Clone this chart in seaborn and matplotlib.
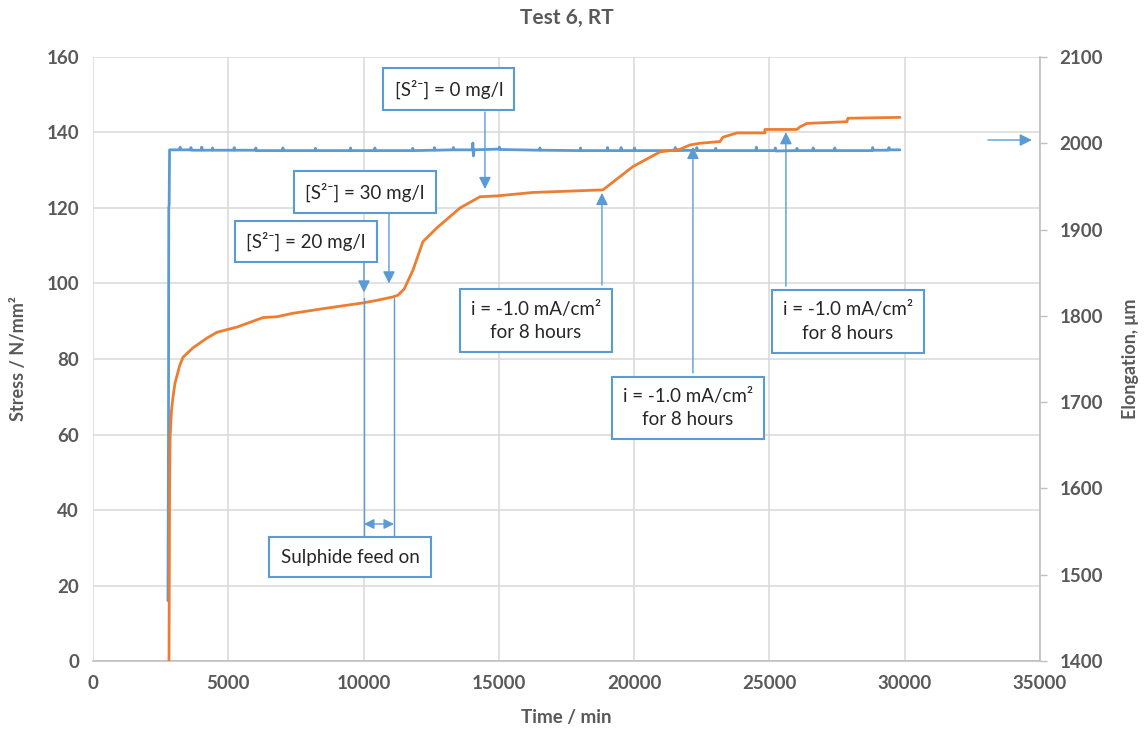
import matplotlib
matplotlib.use("Agg")
import matplotlib.pyplot as plt
import seaborn as sns
import pandas as pd

# ---------------- data ----------------
stress_time = [2770, 2790, 2800, 2815, 2830,
               3200, 3220, 3240, 3600, 3620, 3640, 4000, 4020, 4040,
               4400, 4420, 4440, 5200, 5220, 5240, 6000, 6020, 6040,
               7000, 7020, 7040, 8200, 8220, 8240, 9500, 9520, 9540,
               10400, 10420, 10440, 11800, 11820, 11840, 12600, 12620, 12640,
               13300, 13320, 13340, 14020, 14040, 14060, 14080,
               15000, 15020, 15040, 16500, 16520, 16540, 18000, 18020, 18040,
               19000, 19020, 19040, 19500, 19520, 19540, 20000, 20020, 20040,
               21500, 21520, 21540, 22300, 22320, 22340, 23000, 23020, 23040,
               24500, 24520, 24540, 25200, 25220, 25240, 26000, 26020, 26040,
               26600, 26620, 26640, 27400, 27420, 27440, 28800, 28820, 28840,
               29400, 29420, 29440, 29826]
stress_vals = [16, 60, 120, 121, 135.4,
               135.4, 136.1, 135.4, 135.4, 136.0, 135.3, 135.3, 136.1, 135.3,
               135.3, 135.9, 135.3, 135.3, 136.0, 135.3, 135.3, 135.9, 135.2,
               135.2, 135.9, 135.2, 135.2, 135.8, 135.2, 135.2, 135.9, 135.2,
               135.2, 135.9, 135.2, 135.2, 135.8, 135.2, 135.3, 136.0, 135.3,
               135.4, 136.0, 135.4, 135.4, 137.2, 133.8, 135.4,
               135.6, 136.1, 135.5, 135.3, 135.9, 135.3, 135.2, 135.9, 135.2,
               135.2, 136.0, 135.2, 135.2, 136.0, 135.2, 135.2, 135.9, 135.2,
               135.2, 136.0, 135.2, 135.3, 136.0, 135.2, 135.2, 135.8, 135.2,
               135.2, 136.1, 135.2, 135.2, 135.9, 135.1, 135.2, 135.8, 135.2,
               135.2, 135.9, 135.2, 135.2, 135.9, 135.2, 135.2, 136.0, 135.3,
               135.3, 136.0, 135.4, 135.4]

elong_time = [2809, 2830, 2850, 2900, 2957, 3031, 3200, 3326, 3696, 4200, 4583,
              5322, 6283, 6800, 7392, 8648, 9979, 10500, 11088, 11272, 11500,
              11827, 12196, 12714, 13564, 14303, 14931, 16262, 17999, 18849,
              19958, 20956, 21695, 22065, 22434, 23173, 23284, 23802, 24836,
              24836, 26019, 26130, 26389, 27867, 27904, 29826]
elong_vals = [1400, 1597, 1660, 1690, 1706, 1722, 1742, 1752, 1763, 1774, 1781,
              1787, 1798, 1799, 1803, 1809, 1815, 1818, 1822, 1824, 1831,
              1853, 1886, 1902, 1925, 1938, 1939, 1943, 1945, 1946, 1973, 1990,
              1993, 1998, 2000, 2002, 2007, 2012, 2012, 2016, 2016, 2019, 2023,
              2025, 2029, 2030]

x_ticks = [0, 5000, 10000, 15000, 20000, 25000, 30000, 35000]
y_ticks = [0, 20, 40, 60, 80, 100, 120, 140, 160]
y2_ticks = [1400, 1500, 1600, 1700, 1800, 1900, 2000, 2100]

title = "Test 6, RT"
x_label = "Time / min"
y_label = "Stress / N/mm²"
y2_label = "Elongation, μm"

# annotations: (text, box centre x, box centre y (stress units), arrow x, arrow start y, arrow end y)
notes = [
    ("[S²⁻] = 0 mg/l", 13157, 151.5, 14488, 145.4, 125.0),
    ("[S²⁻] = 30 mg/l", 10053, 124.2, 10940, 118.7, 100.0),
    ("[S²⁻] = 20 mg/l", 7872, 111.1, 10016, 105.7, 97.6),
    ("i = -1.0 mA/cm²\nfor 8 hours", 16373, 90.1, 18812, 99.6, 124.0),
    ("i = -1.0 mA/cm²\nfor 8 hours", 21991, 67.0, 22175, 76.3, 136.2),
    ("i = -1.0 mA/cm²\nfor 8 hours", 27904, 89.9, 25612, 99.3, 140.1),
]

# ---------------- styling ----------------
sns.set_theme(style="white")
plt.rcParams["font.family"] = ["Lato", "DejaVu Sans"]

BLUE = "#5b9bd5"
ORANGE = "#ed7d31"
GREY = "#595959"
GRID = "#d9d9d9"

fig = plt.figure(figsize=(11.44, 7.38), dpi=100)
ax = fig.add_axes([0.0813, 0.1043, 0.909 - 0.0813, 0.9228 - 0.1043])
ax2 = ax.twinx()

df_s = pd.DataFrame({"t": stress_time, "v": stress_vals})
df_e = pd.DataFrame({"t": elong_time, "v": elong_vals})

sns.lineplot(data=df_s, x="t", y="v", ax=ax, color=BLUE, lw=2.0,
             sort=False, estimator=None)
sns.lineplot(data=df_e, x="t", y="v", ax=ax2, color=ORANGE, lw=2.0,
             sort=False, estimator=None)

ax.set_xlim(0, 35000)
ax.set_ylim(0, 160)
ax2.set_ylim(1400, 2100)
ax.set_xticks(x_ticks)
ax.set_yticks(y_ticks)
ax2.set_yticks(y2_ticks)

ax.grid(True, color=GRID, lw=1.1)
ax.set_axisbelow(True)
for sp in ["left", "top"]:
    ax.spines[sp].set_visible(False)
    ax2.spines[sp].set_visible(False)
ax.spines["right"].set_visible(False)
ax2.spines["right"].set_color("#bfbfbf")
ax2.spines["right"].set_linewidth(1.2)
ax.spines["bottom"].set_color("#bfbfbf")
ax.spines["bottom"].set_linewidth(1.2)
ax2.spines["bottom"].set_visible(False)

ax.tick_params(axis="both", length=0, pad=10, labelsize=13.5, labelcolor=GREY)
ax2.tick_params(axis="y", length=5, color="#bfbfbf", width=1, pad=9,
                labelsize=13.5, labelcolor=GREY)
for lab in ax.get_xticklabels() + ax.get_yticklabels() + ax2.get_yticklabels():
    lab.set_fontweight("bold")

ax.set_xlabel(x_label, fontsize=13.5, fontweight="bold", color=GREY, labelpad=12)
ax.set_ylabel(y_label, fontsize=13, fontweight="bold", color=GREY, labelpad=14)
ax2.set_ylabel(y2_label, fontsize=13, fontweight="bold", color=GREY, labelpad=14)
ax.set_title(title, fontsize=15, fontweight="bold", color=GREY, pad=24)

ax_top = ax2
def to_e(s):
    return 1400 + s * 700.0 / 160.0

box_style = dict(boxstyle="square,pad=0.6", fc="white", ec=BLUE, lw=1.5)
arrow_kw = dict(arrowstyle="-|>,head_length=0.6,head_width=0.3", color=BLUE, lw=1.0,
                shrinkA=0, shrinkB=0)

for txt, bx, by, axx, y0, y1 in notes:
    ax_top.annotate("", xy=(axx, to_e(y1)), xytext=(axx, to_e(y0)),
                    arrowprops=arrow_kw, zorder=5)
    ax_top.text(bx, to_e(by), txt, ha="center", va="center", fontsize=13.5,
                color="#262626", bbox=box_style, zorder=6, linespacing=1.45)

# sulphide feed on
feed_t0, feed_t1 = 10016, 11126
ax_top.plot([feed_t0, feed_t0], [to_e(96.2), to_e(32.8)], color=BLUE, lw=1.0, zorder=5)
ax_top.plot([feed_t1, feed_t1], [to_e(96.2), to_e(32.8)], color=BLUE, lw=1.0, zorder=5)
ax_top.annotate("", xy=(feed_t1, to_e(36.3)), xytext=(feed_t0, to_e(36.3)),
                arrowprops=dict(arrowstyle="<|-|>,head_length=0.5,head_width=0.25",
                                color=BLUE, lw=1.0, shrinkA=0, shrinkB=0), zorder=5)
ax_top.text(9498, to_e(27.5), "Sulphide feed on", ha="center", va="center",
            fontsize=13.5, color="#262626", bbox=box_style, zorder=6)

# arrow to right axis
ax_top.annotate("", xy=(34704, to_e(138.0)), xytext=(33078, to_e(138.0)),
                arrowprops=arrow_kw, zorder=5)

fig.savefig("out.png", dpi=100)
